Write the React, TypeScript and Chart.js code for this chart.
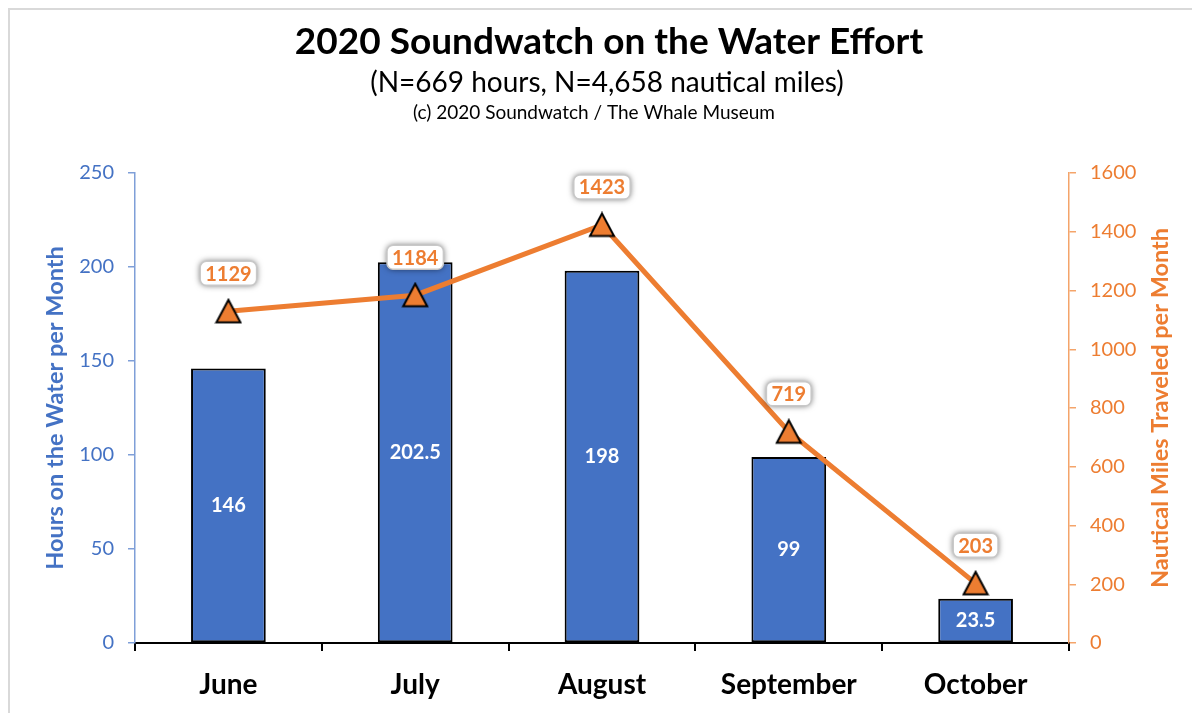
import React, { useEffect, useRef } from "react";
import { Chart, registerables } from "chart.js";

Chart.register(...registerables);

const months = ["June", "July", "August", "September", "October"];
const hours = [146, 202.5, 198, 99, 23.5];
const miles = [1129, 1184, 1423, 719, 203];
const titleText = "2020 Soundwatch on the Water Effort";
const subtitleText = "(N=669 hours, N=4,658 nautical miles)";
const creditText = "(c) 2020 Soundwatch / The Whale Museum";
const leftAxisTitle = "Hours on the Water per Month";
const rightAxisTitle = "Nautical Miles Traveled per Month";

const BLUE = "#4472C4";
const ORANGE = "#ED7D31";
const FONT = "Lato, 'Open Sans', sans-serif";

function makeTriangle(): HTMLCanvasElement {
  const c = document.createElement("canvas");
  c.width = 28;
  c.height = 27;
  const g = c.getContext("2d")!;
  g.beginPath();
  g.moveTo(14, 2);
  g.lineTo(26, 24.5);
  g.lineTo(2, 24.5);
  g.closePath();
  g.fillStyle = ORANGE;
  g.fill();
  g.lineWidth = 2;
  g.lineJoin = "miter";
  g.strokeStyle = "#000";
  g.stroke();
  return c;
}

const labelPlugin = {
  id: "customLabels",
  afterDraw(chart: any) {
    const ctx = chart.ctx;
    const area = chart.chartArea;
    ctx.save();
    // titles
    ctx.fillStyle = "#000";
    ctx.textAlign = "center";
    ctx.textBaseline = "middle";
    ctx.font = `bold 37px ${FONT}`;
    ctx.fillText(titleText, 599, 32);
    ctx.font = `28px ${FONT}`;
    ctx.fillText(subtitleText, 597, 73);
    ctx.font = `19px ${FONT}`;
    ctx.fillText(creditText, 584, 103);

    // right axis title (reads bottom to top)
    ctx.save();
    ctx.translate(1150, (area.top + area.bottom) / 2);
    ctx.rotate(-Math.PI / 2);
    ctx.fillStyle = ORANGE;
    ctx.font = `bold 23.5px ${FONT}`;
    ctx.fillText(rightAxisTitle, 0, 0);
    ctx.restore();

    // bar labels
    const barMeta = chart.getDatasetMeta(0);
    ctx.font = `bold 20px ${FONT}`;
    ctx.fillStyle = "#fff";
    barMeta.data.forEach((bar: any, i: number) => {
      const y = (bar.y + bar.base) / 2;
      ctx.fillText(String(hours[i]), bar.x, y);
    });

    // line labels
    const lineMeta = chart.getDatasetMeta(1);
    ctx.font = `bold 20px ${FONT}`;
    lineMeta.data.forEach((pt: any, i: number) => {
      const txt = String(miles[i]);
      const w = ctx.measureText(txt).width + 10;
      const h = 24;
      const cx = pt.x;
      const cy = pt.y - 38;
      ctx.save();
      ctx.shadowColor = "rgba(0,0,0,0.6)";
      ctx.shadowBlur = 6;
      ctx.fillStyle = "#fff";
      ctx.beginPath();
      (ctx as any).roundRect(cx - w / 2, cy - h / 2, w, h, 6);
      ctx.fill();
      ctx.restore();
      ctx.strokeStyle = "#c8c8c8";
      ctx.lineWidth = 1.5;
      ctx.beginPath();
      (ctx as any).roundRect(cx - w / 2, cy - h / 2, w, h, 6);
      ctx.stroke();
      ctx.fillStyle = ORANGE;
      ctx.fillText(txt, cx, cy + 1);
    });
    ctx.restore();
  },
};

export default function App() {
  const ref = useRef<HTMLCanvasElement | null>(null);
  useEffect(() => {
    if (!ref.current) return;
    const tri = makeTriangle();
    const chart = new Chart(ref.current, {
      type: "bar",
      data: {
        labels: months,
        datasets: [
          {
            type: "bar",
            label: "Hours",
            data: hours,
            backgroundColor: BLUE,
            borderColor: "#000",
            borderWidth: 2,
            borderSkipped: false,
            barPercentage: 0.4,
            categoryPercentage: 1,
            yAxisID: "y",
            order: 2,
          },
          {
            type: "line",
            label: "Miles",
            data: miles,
            borderColor: ORANGE,
            borderWidth: 5,
            pointStyle: tri,
            pointRadius: 14,
            yAxisID: "y1",
            order: 1,
          } as any,
        ],
      },
      options: {
        responsive: false,
        animation: false,
        layout: { padding: { top: 163, left: 0, right: 0, bottom: 0 } },
        plugins: {
          legend: { display: false },
          tooltip: { enabled: false },
          title: { display: false },
        },
        scales: {
          x: {
            grid: {
              offset: true,
              drawOnChartArea: false,
              drawTicks: true,
              tickLength: 8,
              color: "#000",
              lineWidth: 2,
            },
            border: { color: "#000", width: 2 },
            ticks: {
              color: "#000",
              font: { family: FONT, size: 28, weight: "bold" },
              padding: 17,
              maxRotation: 0,
            },
            afterFit(scale: any) {
              scale.height = 70;
            },
          },
          y: {
            position: "left",
            min: 0,
            max: 250,
            ticks: {
              stepSize: 50,
              color: BLUE,
              font: { family: FONT, size: 20 },
              padding: 14,
            },
            grid: {
              drawOnChartArea: false,
              drawTicks: true,
              tickLength: 7,
              color: "#7F9FD8",
              lineWidth: 1.5,
            },
            border: { color: "#7F9FD8", width: 1.5 },
            title: {
              display: true,
              text: leftAxisTitle,
              color: BLUE,
              font: { family: FONT, size: 23.5, weight: "bold" },
              padding: { top: 31, bottom: 0 },
            },
            afterFit(scale: any) {
              scale.width = 125;
            },
          },
          y1: {
            position: "right",
            min: 0,
            max: 1600,
            ticks: {
              stepSize: 200,
              color: ORANGE,
              font: { family: FONT, size: 20 },
              padding: 14,
              callback: (v: any) => String(v),
            },
            grid: {
              drawOnChartArea: false,
              drawTicks: true,
              tickLength: 7,
              color: "#F4A46A",
              lineWidth: 1.5,
            },
            border: { color: "#F4A46A", width: 1.5 },
            afterFit(scale: any) {
              scale.width = 131;
            },
          },
        },
      } as any,
      plugins: [labelPlugin],
    });
    return () => chart.destroy();
  }, []);

  return (
    <div
      style={{
        width: 1192,
        height: 705,
        boxSizing: "border-box",
        borderTop: "2px solid #d9d9d9",
        borderLeft: "2px solid #d9d9d9",
        background: "#fff",
      }}
    >
      <canvas ref={ref} width={1190} height={703} style={{ display: "block" }} />
    </div>
  );
}
